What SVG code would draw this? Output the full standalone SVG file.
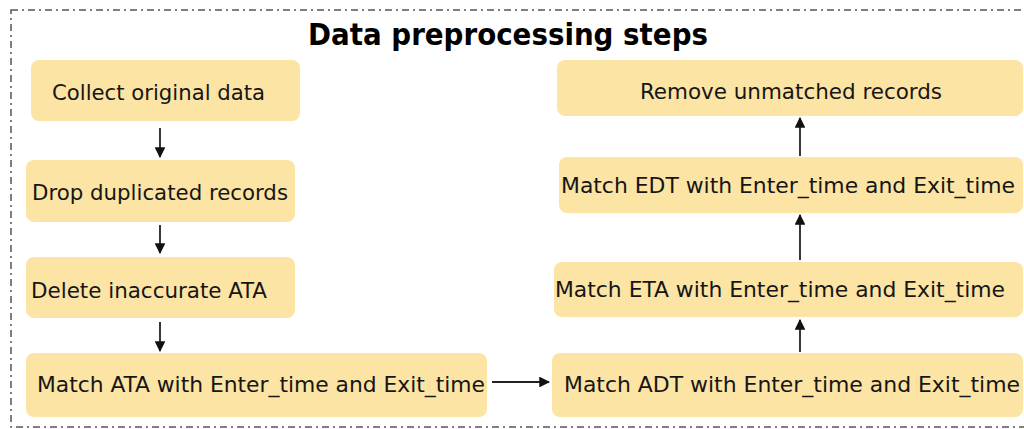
<svg xmlns="http://www.w3.org/2000/svg" width="1024" height="429" viewBox="0 0 1024 429">
<defs>
<style>
.box{fill:#fce4a4;}
.t{font-family:"DejaVu Sans Condensed","DejaVu Sans",sans-serif;font-size:22px;fill:#161616;}
.title{font-family:"DejaVu Sans","Liberation Sans",sans-serif;font-size:30px;font-weight:bold;fill:#000;}
.c{stroke:#222;stroke-width:1.8;fill:none;marker-end:url(#ah);}
</style>
<marker id="ah" viewBox="0 0 10 10" refX="9" refY="5" markerWidth="6" markerHeight="6" orient="auto" markerUnits="strokeWidth">
<path d="M0,0 L10,5 L0,10 z" fill="#111"/>
</marker>
</defs>
<rect width="1024" height="429" fill="#fff"/>
<rect x="11" y="10" width="1030" height="417" fill="none" stroke="#555" stroke-width="1.5" stroke-dasharray="7,4,2,4"/>
<text class="title" x="508" y="45" text-anchor="middle" textLength="400" lengthAdjust="spacingAndGlyphs">Data preprocessing steps</text>
<g id="n1"><rect class="box" x="31" y="60" width="269" height="61" rx="8"/><text class="t" x="52" y="100" textLength="213" lengthAdjust="spacingAndGlyphs">Collect original data</text></g>
<g id="n2"><rect class="box" x="26" y="160" width="269" height="62" rx="8"/><text class="t" x="32" y="200" textLength="256" lengthAdjust="spacingAndGlyphs">Drop duplicated records</text></g>
<g id="n3"><rect class="box" x="26" y="257" width="269" height="61" rx="8"/><text class="t" x="31" y="298" textLength="236" lengthAdjust="spacingAndGlyphs">Delete inaccurate ATA</text></g>
<g id="n4"><rect class="box" x="26" y="353" width="461" height="64" rx="8"/><text class="t" x="37" y="392" textLength="448" lengthAdjust="spacingAndGlyphs">Match ATA with Enter_time and Exit_time</text></g>
<g id="n5"><rect class="box" x="552" y="353" width="471" height="64" rx="8"/><text class="t" x="564" y="392" textLength="456" lengthAdjust="spacingAndGlyphs">Match ADT with Enter_time and Exit_time</text></g>
<g id="n6"><rect class="box" x="554" y="262" width="469" height="55" rx="8"/><text class="t" x="555" y="297" textLength="450" lengthAdjust="spacingAndGlyphs">Match ETA with Enter_time and Exit_time</text></g>
<g id="n7"><rect class="box" x="559" y="157" width="464" height="56" rx="8"/><text class="t" x="561" y="193" textLength="454" lengthAdjust="spacingAndGlyphs">Match EDT with Enter_time and Exit_time</text></g>
<g id="n8"><rect class="box" x="557" y="60" width="466" height="56" rx="8"/><text class="t" x="640" y="99" textLength="302" lengthAdjust="spacingAndGlyphs">Remove unmatched records</text></g>
<g id="connectors">
<line class="c" x1="160" y1="128" x2="160" y2="157"/>
<line class="c" x1="160" y1="225" x2="160" y2="253"/>
<line class="c" x1="160" y1="322" x2="160" y2="351"/>
<line class="c" x1="492" y1="382" x2="549" y2="382"/>
<line class="c" x1="800" y1="352" x2="800" y2="320"/>
<line class="c" x1="800" y1="260" x2="800" y2="215"/>
<line class="c" x1="800" y1="156" x2="800" y2="118"/>
</g>
</svg>
